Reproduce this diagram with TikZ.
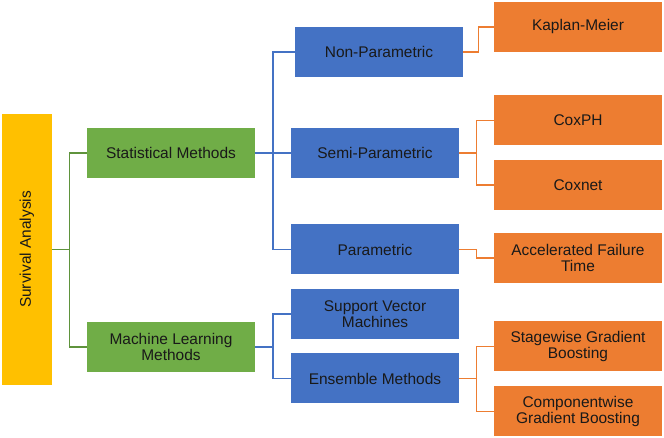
\documentclass[tikz,border=0pt]{standalone}
\usepackage{fontspec}
\setmainfont{Liberation Sans}
\definecolor{saYellow}{HTML}{FFC000}
\definecolor{smGreen}{HTML}{70AD47}
\definecolor{npBlue}{HTML}{4472C4}
\definecolor{kmOrange}{HTML}{ED7D31}
\begin{document}
\begin{tikzpicture}[
	box/.style={minimum width=4.2cm, minimum height=1.25cm, inner sep=0pt, align=center,
		font=\fontsize{11}{11.6}\selectfont, text=black!90},
	gbox/.style={box, fill=smGreen},
	bbox/.style={box, fill=npBlue},
	obox/.style={box, fill=kmOrange},
	gline/.style={draw=smGreen!85!black, line width=0.8pt},
	bline/.style={draw=npBlue, line width=0.8pt},
	oline/.style={draw=kmOrange, line width=0.8pt}]
	\useasboundingbox (0,0) rectangle (16.6,10.95);
	%
	\node[box, fill=saYellow, minimum width=1.25cm, minimum height=6.775cm] (sa) at (0.675,4.7125) {};
	\node[rotate=90, font=\fontsize{11}{11.6}\selectfont, text=black!90] (salabel) at (sa.center) {Survival Analysis};
	%
	\node[gbox] (sm) at (4.275,7.125) {Statistical Methods};
	\node[gbox] (ml) at (4.275,2.275) {Machine Learning\\Methods};
	%
	\node[bbox] (np) at (9.475,9.65) {Non-Parametric};
	\node[bbox] (semi) at (9.375,7.125) {Semi-Parametric};
	\node[bbox] (par) at (9.375,4.7125) {Parametric};
	\node[bbox] (svm) at (9.375,3.1) {Support Vector\\Machines};
	\node[bbox] (ens) at (9.375,1.4875) {Ensemble Methods};
	%
	\node[obox] (km) at (14.45,10.275) {Kaplan-Meier};
	\node[obox] (cox) at (14.45,7.9375) {CoxPH};
	\node[obox] (coxnet) at (14.45,6.325) {Coxnet};
	\node[obox] (aft) at (14.45,4.5) {Accelerated Failure\\Time};
	\node[obox] (sgb) at (14.45,2.2875) {Stagewise Gradient\\Boosting};
	\node[obox] (cgb) at (14.45,0.6625) {Componentwise\\Gradient Boosting};
	%
	\coordinate (jsa) at (1.7375,4.7125);
	\coordinate (jsm) at (6.825,7.125);
	\coordinate (jml) at (6.825,2.275);
	\coordinate (jnp) at (11.9625,9.65);
	\coordinate (jsemi) at (11.9125,7.125);
	\coordinate (jpar) at (11.9125,4.7125);
	\coordinate (jens) at (11.9125,1.4875);
	%
	\draw[gline] (sa.east) -- (jsa);   % survival analysis to its two branches
	\draw[gline] (jsa) |- (sm.west);
	\draw[gline] (jsa) |- (ml.west);
	%
	\draw[bline] (sm.east) -- (jsm);
	\draw[bline] (jsm) |- (np.west);
	\draw[bline] (jsm) |- (semi.west);
	\draw[bline] (jsm) |- (par.west);
	\draw[bline] (ml.east) -- (jml);
	\draw[bline] (jml) |- (svm.west);
	\draw[bline] (jml) |- (ens.west);
	%
	\draw[oline] (np.east) -- (jnp) |- (km.west);
	\draw[oline] (semi.east) -- (jsemi);
	\draw[oline] (jsemi) |- (cox.west);
	\draw[oline] (jsemi) |- (coxnet.west);
	\draw[oline] (par.east) -- (jpar) |- (aft.west);
	\draw[oline] (ens.east) -- (jens);
	\draw[oline] (jens) |- (sgb.west);
	\draw[oline] (jens) |- (cgb.west);
\end{tikzpicture}
\end{document}
